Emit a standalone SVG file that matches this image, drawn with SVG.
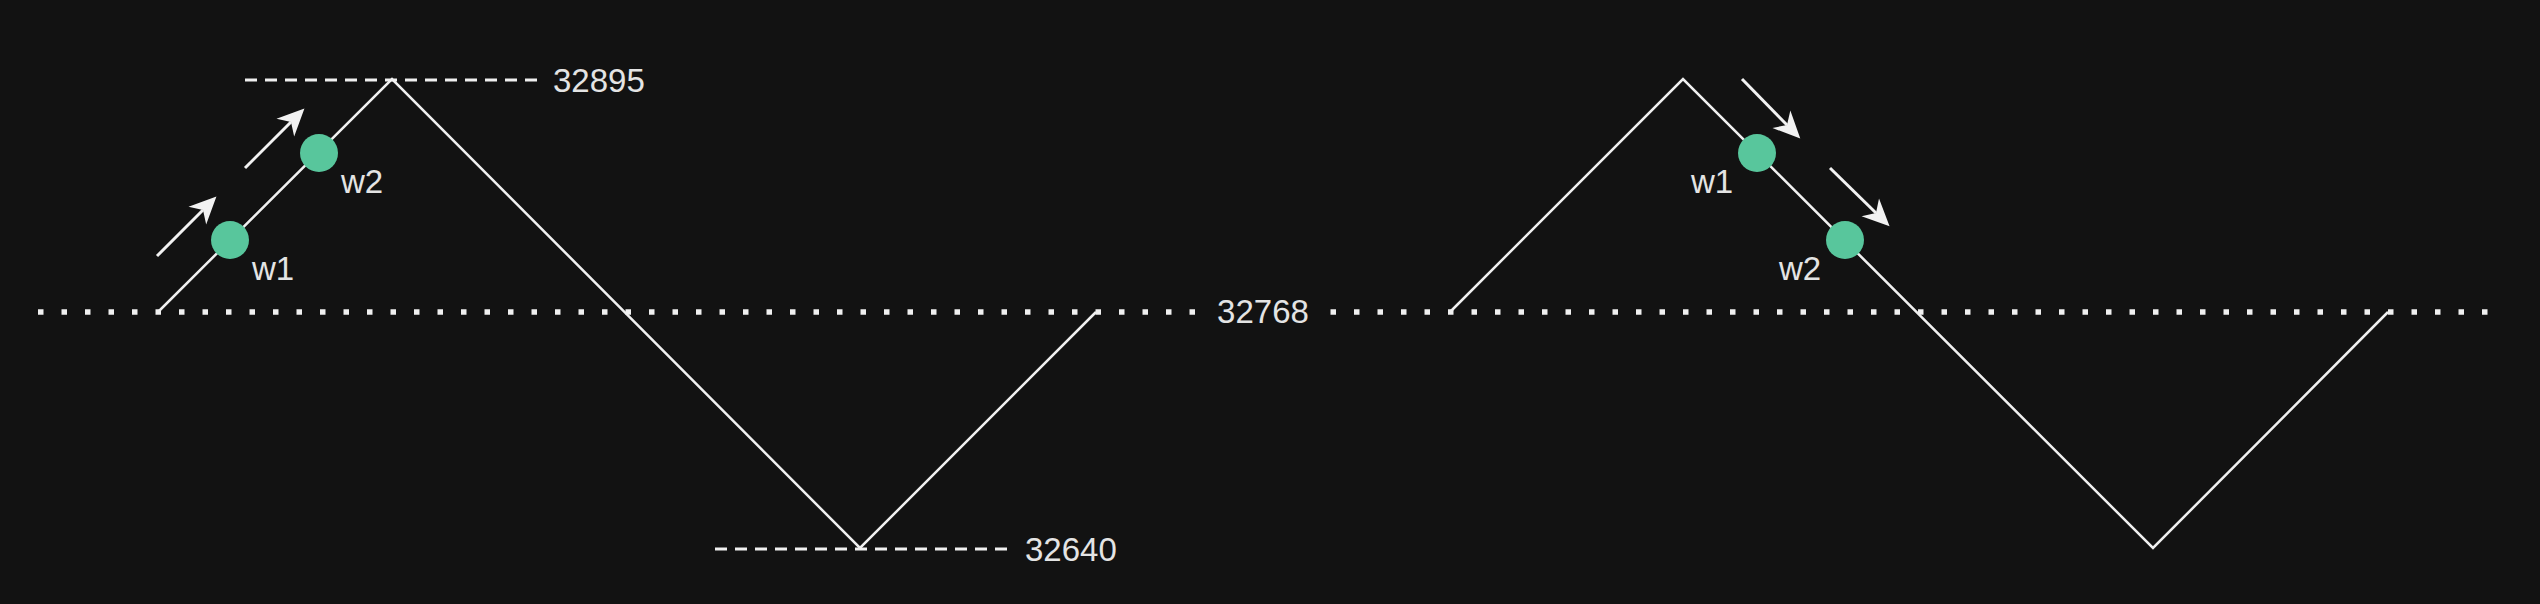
<svg xmlns="http://www.w3.org/2000/svg" width="2540" height="604" viewBox="0 0 2540 604">
<defs>
<marker id="arr" markerUnits="userSpaceOnUse" markerWidth="34" markerHeight="34" viewBox="-30 -16 34 32" refX="-19" refY="0" orient="auto">
<path d="M0,0 L-27,-12.5 L-19,0 L-27,12.5 Z" fill="#f2f2f2"/>
</marker>
<style>
.bg{fill:#121212}
.wave{fill:none;stroke:#f0f0f0;stroke-width:2.5;stroke-linejoin:miter}
.dots{stroke:#f0f0f0;stroke-width:5.5;stroke-dasharray:5.5 18}
.dash{stroke:#f0f0f0;stroke-width:3;stroke-dasharray:12 8}
.mv{stroke:#f2f2f2;stroke-width:3;fill:none}
.pt{fill:#58c69c}
.lbl{font-family:"Liberation Sans",Arial,sans-serif;font-size:33px;fill:#e4e4e4}
</style>
</defs>
<rect class="bg" x="0" y="0" width="2540" height="604"/>
<g id="levels">
<line id="mid-line" class="dots" x1="38" y1="312" x2="2490" y2="312"/>
<line id="max-line" class="dash" x1="245" y1="80" x2="537" y2="80"/>
<line id="min-line" class="dash" x1="715" y1="549" x2="1007" y2="549"/>
</g>
<g id="connectors">
<polyline class="wave" points="158,312 392,79 860,548 1096,312"/>
<polyline class="wave" points="1450,312 1683,79 2153,548 2388,312"/>
<line class="mv" x1="157" y1="256" x2="203" y2="210" marker-end="url(#arr)"/>
<line class="mv" x1="245" y1="168" x2="291" y2="122" marker-end="url(#arr)"/>
<line class="mv" x1="1742" y1="79" x2="1787" y2="125" marker-end="url(#arr)"/>
<line class="mv" x1="1830" y1="168" x2="1876" y2="213" marker-end="url(#arr)"/>
</g>
<g id="label-32768">
<rect class="bg" x="1202" y="294" width="122" height="36"/>
<text class="lbl" x="1263" y="323" text-anchor="middle">32768</text>
</g>
<g id="label-32895"><text class="lbl" x="553" y="92">32895</text></g>
<g id="label-32640"><text class="lbl" x="1025" y="561">32640</text></g>
<g id="left-w1"><circle class="pt" cx="230" cy="240" r="19"/><text class="lbl" x="252" y="280">w1</text></g>
<g id="left-w2"><circle class="pt" cx="319" cy="153" r="19"/><text class="lbl" x="341" y="193">w2</text></g>
<g id="right-w1"><circle class="pt" cx="1757" cy="153" r="19"/><text class="lbl" x="1691" y="193">w1</text></g>
<g id="right-w2"><circle class="pt" cx="1845" cy="240" r="19"/><text class="lbl" x="1779" y="280">w2</text></g>
</svg>
